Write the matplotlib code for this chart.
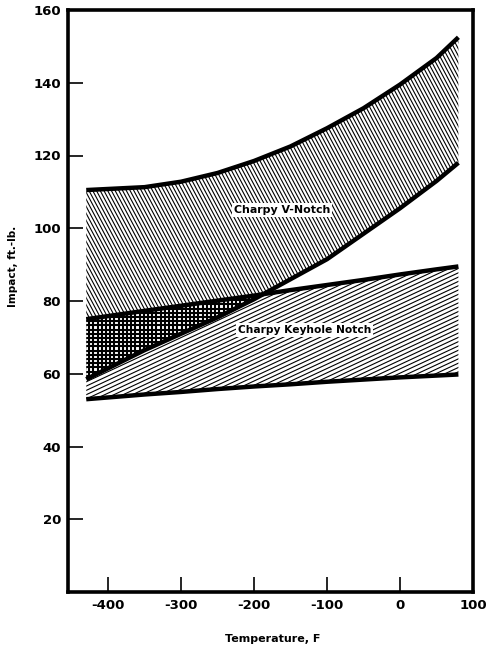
"""
Impact energy bands for Charpy V-notch and keyhole notch specimens vs temperature.
"""
import numpy as np
import matplotlib
matplotlib.use("Agg")
import matplotlib.pyplot as plt
from matplotlib.collections import LineCollection

temp = [-430, -350, -300, -250, -200, -150, -100, -50, 0, 50, 80]

# V-notch band
v_upper = [110.5, 111.3, 112.8, 115.2, 118.5, 122.5, 127.5, 133.0, 139.5, 146.8, 152.5]
v_lower = [58.5, 66.5, 71.0, 75.5, 80.5, 86.0, 91.5, 98.5, 105.5, 113.0, 118.0]

# Keyhole notch band
kh_upper = [75.0, 77.3, 78.7, 80.1, 81.5, 83.0, 84.4, 85.8, 87.3, 88.7, 89.5]
kh_lower = [53.0, 54.3, 55.0, 55.8, 56.5, 57.1, 57.8, 58.4, 59.0, 59.5, 59.8]

x_ticks = [-400, -300, -200, -100, 0, 100]
y_ticks = [20, 40, 60, 80, 100, 120, 140, 160]

fig = plt.figure(figsize=(4.86, 6.47), dpi=100)
pos = [68 / 486, 55 / 647, 405 / 486, 582 / 647]
ax = fig.add_axes(pos)
W_px, H_px = pos[2] * 486, pos[3] * 647


def hatch(poly, angle, spacing, lw=0.8, z=2):
	# parallel lines at a given angle (in pixels), clipped to a filled region
	th = np.radians(angle)
	d = np.array([np.cos(th), np.sin(th)])
	n = np.array([-np.sin(th), np.cos(th)])
	diag = np.hypot(W_px, H_px)
	c = np.array([W_px / 2, H_px / 2])
	scale = np.array([W_px, H_px])
	segs = []
	for o in np.arange(-diag, diag, spacing):
		p = c + n * o
		segs.append([(p - d * diag) / scale, (p + d * diag) / scale])
	lc = LineCollection(segs, transform=ax.transAxes, colors='black',
		linewidths=lw, zorder=z)
	lc.set_clip_path(poly.get_paths()[0], ax.transData)
	ax.add_collection(lc)


ax.set_xlim(-455, 100)
ax.set_ylim(0, 160)

t = np.array(temp)
v_poly = ax.fill_between(t, v_lower, v_upper, facecolor='none', edgecolor='none')
kh_poly = ax.fill_between(t, kh_lower, kh_upper, facecolor='none', edgecolor='none')
hatch(v_poly, -62, 3.3)
hatch(kh_poly, 25, 3.9)

# overlap of the two bands: fine square screen
ov = ax.fill_between(t, v_lower, kh_upper, where=np.array(kh_upper) > np.array(v_lower),
	interpolate=True, facecolor='white', edgecolor='none', zorder=3)
hatch(ov, 0, 4.2, lw=1.5, z=3.5)
hatch(ov, 90, 4.2, lw=1.5, z=3.5)

for ys in [v_upper, v_lower, kh_upper, kh_lower]:
	ax.plot(temp, ys, color='black', lw=3.2, solid_capstyle='butt',
		solid_joinstyle='round', zorder=5)

box = dict(facecolor='white', edgecolor='none', pad=1.5)
ax.text(-162, 105, 'Charpy V-Notch', fontsize=7.9, fontweight='bold',
	ha='center', va='center', bbox=box, zorder=6)
ax.text(-131, 72, 'Charpy Keyhole Notch', fontsize=7.7, fontweight='bold',
	ha='center', va='center', bbox=box, zorder=6)

ax.set_xticks(x_ticks)
ax.set_xticklabels([str(v) for v in x_ticks])
ax.set_yticks(y_ticks)
ax.set_yticklabels([str(v) for v in y_ticks])
ax.tick_params(direction='in', length=11, width=1.2, labelsize=9.5, pad=5)
for lab in ax.get_xticklabels() + ax.get_yticklabels():
	lab.set_fontweight('bold')

for s in ax.spines.values():
	s.set_linewidth(2.6)

ax.set_xlabel('Temperature, F', fontsize=8, fontweight='bold')
ax.set_ylabel('Impact, ft.-lb.', fontsize=7.5, fontweight='bold')
ax.xaxis.set_label_coords(0.506, -0.072)
ax.yaxis.set_label_coords(-0.123, 0.56)

fig.savefig('out.png', dpi=100)
